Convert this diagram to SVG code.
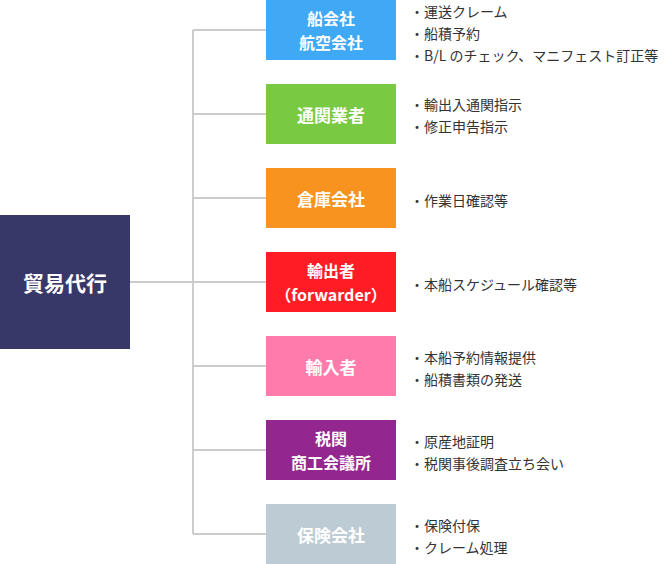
<svg xmlns="http://www.w3.org/2000/svg" width="664" height="564" viewBox="0 0 664 564">
<style>
.n{font-family:"Noto Sans CJK JP","Noto Sans",sans-serif;font-weight:bold;fill:#fff;text-anchor:middle;dominant-baseline:central;font-size:17px}
.n2{font-size:16px}
.d{font-family:"Noto Sans CJK JP","Noto Sans",sans-serif;fill:#333;font-size:14px;dominant-baseline:central}
.c{stroke:#cccccc;stroke-width:2;fill:none}
</style>
<rect width="664" height="564" fill="#fff"/>
<g id="connectors">
<path class="c" d="M130 282H193M193 30V534M193 30H266M193 114H266M193 198H266M193 282H266M193 366H266M193 450H266M193 534H266"/>
</g>
<g id="trade"><rect x="0" y="215" width="130" height="134" fill="#383868"/><text class="n" x="65" y="282" style="font-size:21px">貿易代行</text></g>
<g id="ship"><rect x="266" y="0" width="130" height="60" fill="#3FA9F5"/><text class="n n2" x="331" y="18">船会社</text><text class="n n2" x="331" y="42">航空会社</text></g>
<g id="customs"><rect x="266" y="84" width="130" height="60" fill="#7AC943"/><text class="n" x="331" y="114">通関業者</text></g>
<g id="warehouse"><rect x="266" y="168" width="130" height="60" fill="#F7931E"/><text class="n" x="331" y="198">倉庫会社</text></g>
<g id="exporter"><rect x="266" y="252" width="130" height="60" fill="#FF1D25"/><text class="n n2" x="331" y="270">輸出者</text><text class="n n2" x="331" y="294">（forwarder）</text></g>
<g id="importer"><rect x="266" y="336" width="130" height="60" fill="#FF7BAC"/><text class="n" x="331" y="366">輸入者</text></g>
<g id="chamber"><rect x="266" y="420" width="130" height="60" fill="#93278F"/><text class="n n2" x="331" y="438">税関</text><text class="n n2" x="331" y="462">商工会議所</text></g>
<g id="insurance"><rect x="266" y="504" width="130" height="60" fill="#BDCCD4"/><text class="n" x="331" y="534">保険会社</text></g>
<g id="notes">
<text class="d" x="410" y="11">・運送クレーム</text>
<text class="d" x="410" y="33">・船積予約</text>
<text class="d" x="410" y="55">・B/L のチェック、マニフェスト訂正等</text>
<text class="d" x="410" y="104">・輸出入通関指示</text>
<text class="d" x="410" y="126">・修正申告指示</text>
<text class="d" x="410" y="200">・作業日確認等</text>
<text class="d" x="410" y="284">・本船スケジュール確認等</text>
<text class="d" x="410" y="357">・本船予約情報提供</text>
<text class="d" x="410" y="379">・船積書類の発送</text>
<text class="d" x="410" y="441">・原産地証明</text>
<text class="d" x="410" y="463">・税関事後調査立ち会い</text>
<text class="d" x="410" y="525">・保険付保</text>
<text class="d" x="410" y="547">・クレーム処理</text>
</g>
</svg>
